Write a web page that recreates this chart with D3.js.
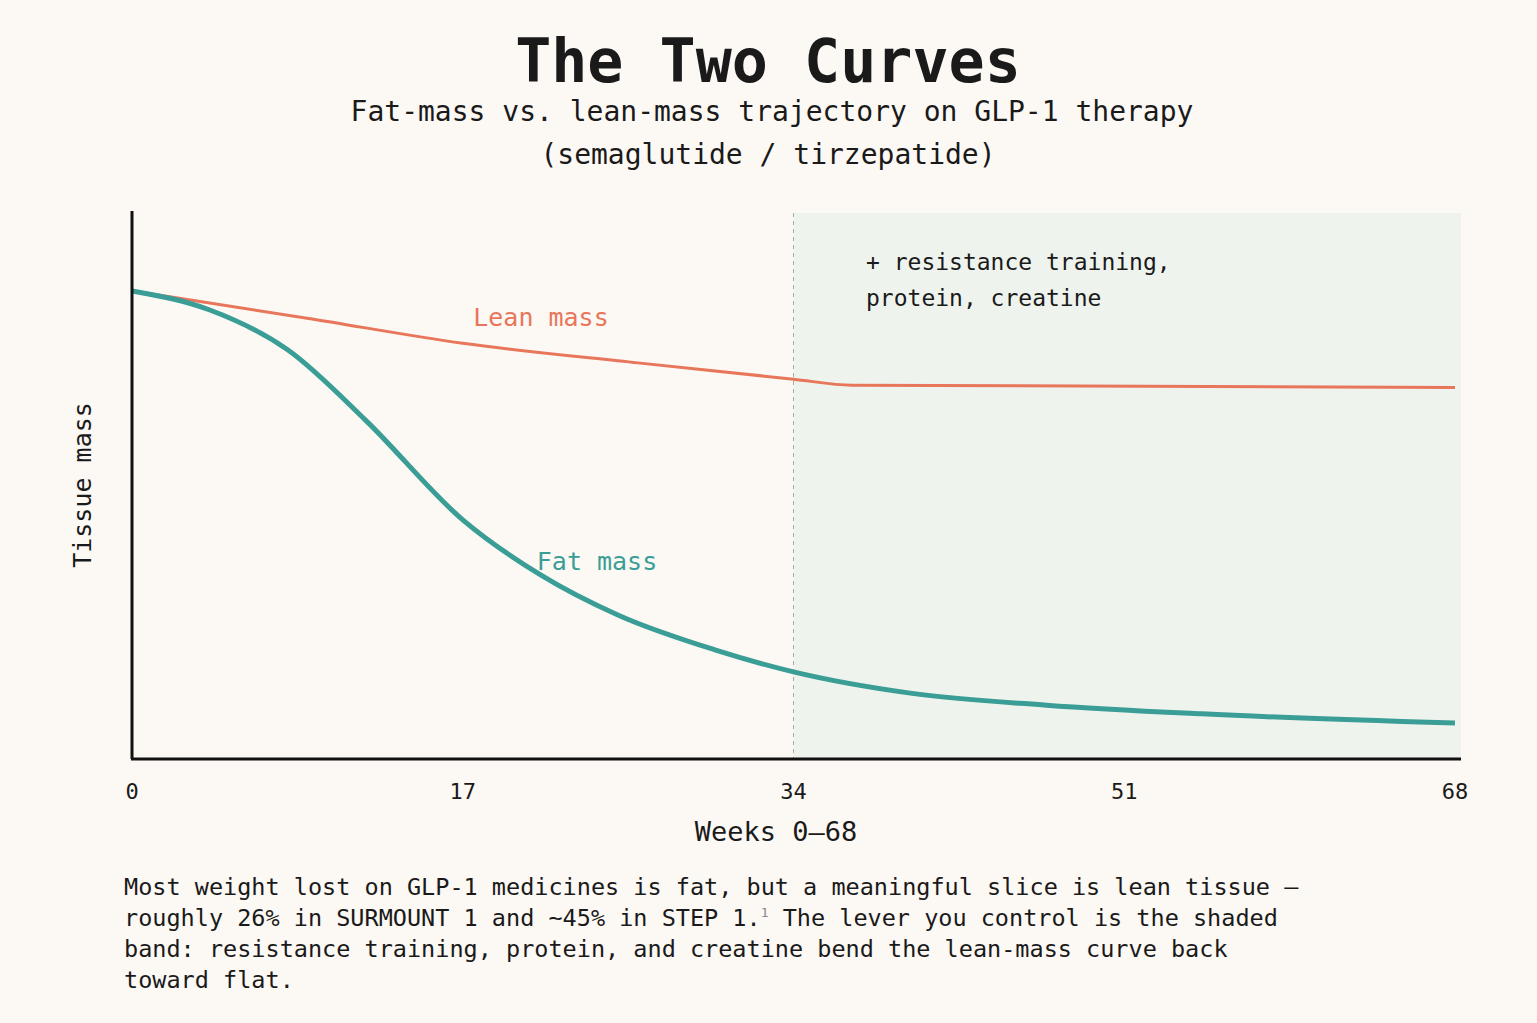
<!DOCTYPE html>
<html><head><meta charset="utf-8">
<script src="https://cdn.jsdelivr.net/npm/d3@7"></script>
<style>
body{margin:0;background:#fcf8f4;}
text{font-family:"DejaVu Sans Mono","Liberation Mono",monospace;fill:#1a1a1a;}
</style></head>
<body><svg width="1537" height="1023"></svg>
<script>
const leanWeeks = [0, 9, 17, 26, 34, 37, 68];
const leanValues = [85.7, 80.7, 76.1, 72.5, 69.5, 68.4, 68.0];
const fatWeeks = [0, 4, 8, 12, 17, 21, 25, 30, 34, 40, 47, 55, 68];
const fatValues = [85.7, 82.2, 74.9, 62.0, 43.7, 33.6, 26.2, 19.8, 15.8, 11.9, 9.7, 8.1, 6.4];
const tickWeeks = [0, 17, 34, 51, 68];
const bandStart = 34;

let svg = d3.select("svg");
svg.append("rect").attr("width", 1537).attr("height", 1023).attr("fill", "#fcf8f4");

let x = d3.scaleLinear().domain([0, 68]).range([132, 1455]);
let y = d3.scaleLinear().domain([0, 100]).range([758, 213]);

svg.append("rect").attr("x", x(bandStart)).attr("y", 213)
  .attr("width", 1461 - x(bandStart)).attr("height", 758 - 213).attr("fill", "#eef3ee");
svg.append("line").attr("x1", x(bandStart)).attr("x2", x(bandStart)).attr("y1", 213).attr("y2", 758)
  .attr("stroke", "#aaa").attr("stroke-dasharray", "4,4").attr("stroke-width", 1);

let line = d3.line().curve(d3.curveMonotoneX).x(d => x(d[0])).y(d => y(d[1]));
svg.append("path").datum(d3.zip(leanWeeks, leanValues)).attr("d", line)
  .attr("fill", "none").attr("stroke", "#e8765a").attr("stroke-width", 3);
svg.append("path").datum(d3.zip(fatWeeks, fatValues)).attr("d", line)
  .attr("fill", "none").attr("stroke", "#3a9e96").attr("stroke-width", 5);

// axes
svg.append("line").attr("x1", 132).attr("x2", 132).attr("y1", 211).attr("y2", 759).attr("stroke", "#111").attr("stroke-width", 3);
svg.append("line").attr("x1", 131).attr("x2", 1461).attr("y1", 759).attr("y2", 759).attr("stroke", "#111").attr("stroke-width", 3);
svg.selectAll(".tick").data(tickWeeks).enter().append("text")
  .attr("x", d => x(d)).attr("y", 799).attr("text-anchor", "middle").attr("font-size", 22).text(d => d);

svg.append("text").attr("x", 776).attr("y", 841).attr("text-anchor", "middle").attr("font-size", 27).text("Weeks 0–68");
svg.append("text").attr("transform", "translate(91,485) rotate(-90)").attr("text-anchor", "middle").attr("font-size", 25).text("Tissue mass");

svg.append("text").attr("x", 768).attr("y", 82).attr("text-anchor", "middle").attr("font-size", 60).attr("font-weight", "bold").text("The Two Curves");
svg.append("text").attr("x", 772).attr("y", 121).attr("text-anchor", "middle").attr("font-size", 28).text("Fat-mass vs. lean-mass trajectory on GLP-1 therapy");
svg.append("text").attr("x", 768).attr("y", 164).attr("text-anchor", "middle").attr("font-size", 28).text("(semaglutide / tirzepatide)");

svg.append("text").attr("x", 541).attr("y", 326).attr("text-anchor", "middle").attr("font-size", 25).style("fill", "#e8765a").text("Lean mass");
svg.append("text").attr("x", 597).attr("y", 570).attr("text-anchor", "middle").attr("font-size", 25).style("fill", "#3a9e96").text("Fat mass");
svg.append("text").attr("x", 866).attr("y", 270).attr("font-size", 23).text("+ resistance training,");
svg.append("text").attr("x", 866).attr("y", 306).attr("font-size", 23).text("protein, creatine");

let cap = [
  "Most weight lost on GLP-1 medicines is fat, but a meaningful slice is lean tissue —",
  "roughly 26% in SURMOUNT 1 and ~45% in STEP 1.",
  "band: resistance training, protein, and creatine bend the lean-mass curve back",
  "toward flat."
];
let t = svg.append("g").attr("font-size", 23.5);
cap.forEach((c, i) => {
  let el = t.append("text").attr("x", 124).attr("y", 895 + i * 31).attr("font-size", 23.5).text(c);
  if (i === 1) {
    el.append("tspan").attr("font-size", 13).attr("dy", -9).style("fill", "#888").text("1");
    el.append("tspan").attr("dy", 9).text(" The lever you control is the shaded");
  }
});
</script></body></html>
